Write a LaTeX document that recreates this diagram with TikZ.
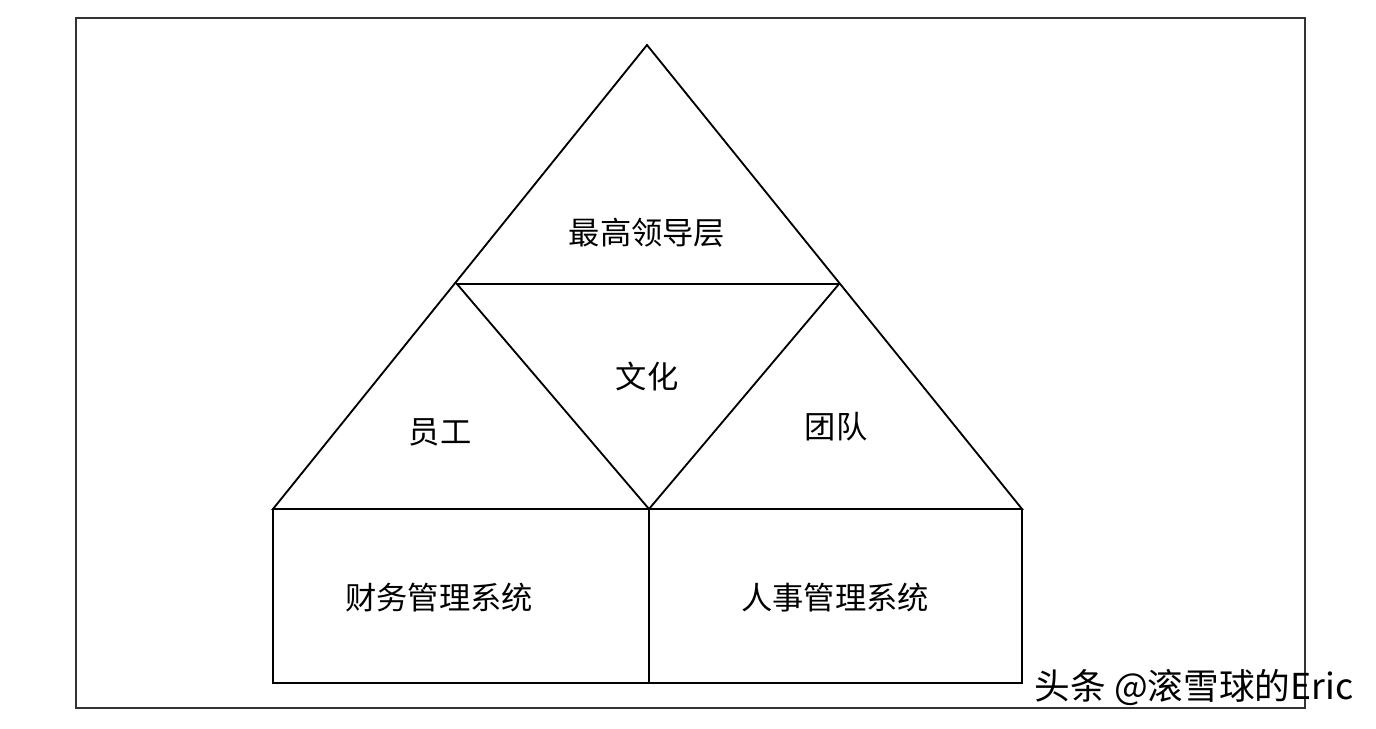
\documentclass[tikz,border=0pt]{standalone}
\usepackage{fontspec}
\newfontfamily\cjk{Noto Sans CJK SC}

\begin{document}
\begin{tikzpicture}[
        x=0.2mm, y=-0.2mm,
        boxtext/.style={font=\cjk\fontsize{17.8}{20}\selectfont, inner sep=0pt},
        every path/.append style={line width=1.05pt, line join=miter}
    ]
        \useasboundingbox (0,0) rectangle (1376,728);
        \draw [black!80] (76,18) rectangle (1305,708);

        \coordinate (apex) at (647,45);
        \coordinate (baseL) at (273,509);
        \coordinate (baseR) at (1022,509);
        \coordinate (midL) at (457,284);
        \coordinate (midR) at (839,284);
        \coordinate (baseM) at (649,509);
        \coordinate (footL) at (273,683);
        \coordinate (footR) at (1022,683);
        \coordinate (footM) at (649,683);

        \draw (apex) -- (baseL) -- (baseR) -- cycle;
        \draw (midL) -- (midR) -- (baseM) -- cycle;
        \draw (baseL) rectangle (footR);
        \draw (baseM) -- (footM);

        \node [boxtext] (top)     at (647,233) {最高领导层};
        \node [boxtext] (culture) at (647,376) {文化};
        \node [boxtext] (staff)   at (440,432) {员工};
        \node [boxtext] (team)    at (836,427) {团队};
        \node [boxtext] (finance) at (439,598) {财务管理系统};
        \node [boxtext] (hr)      at (835,598) {人事管理系统};

        \node [font=\cjk\fontsize{20.3}{22}\selectfont, inner sep=0pt] (mark) at (1194,688) {头条 @滚雪球的Eric};
    \end{tikzpicture}
\end{document}
